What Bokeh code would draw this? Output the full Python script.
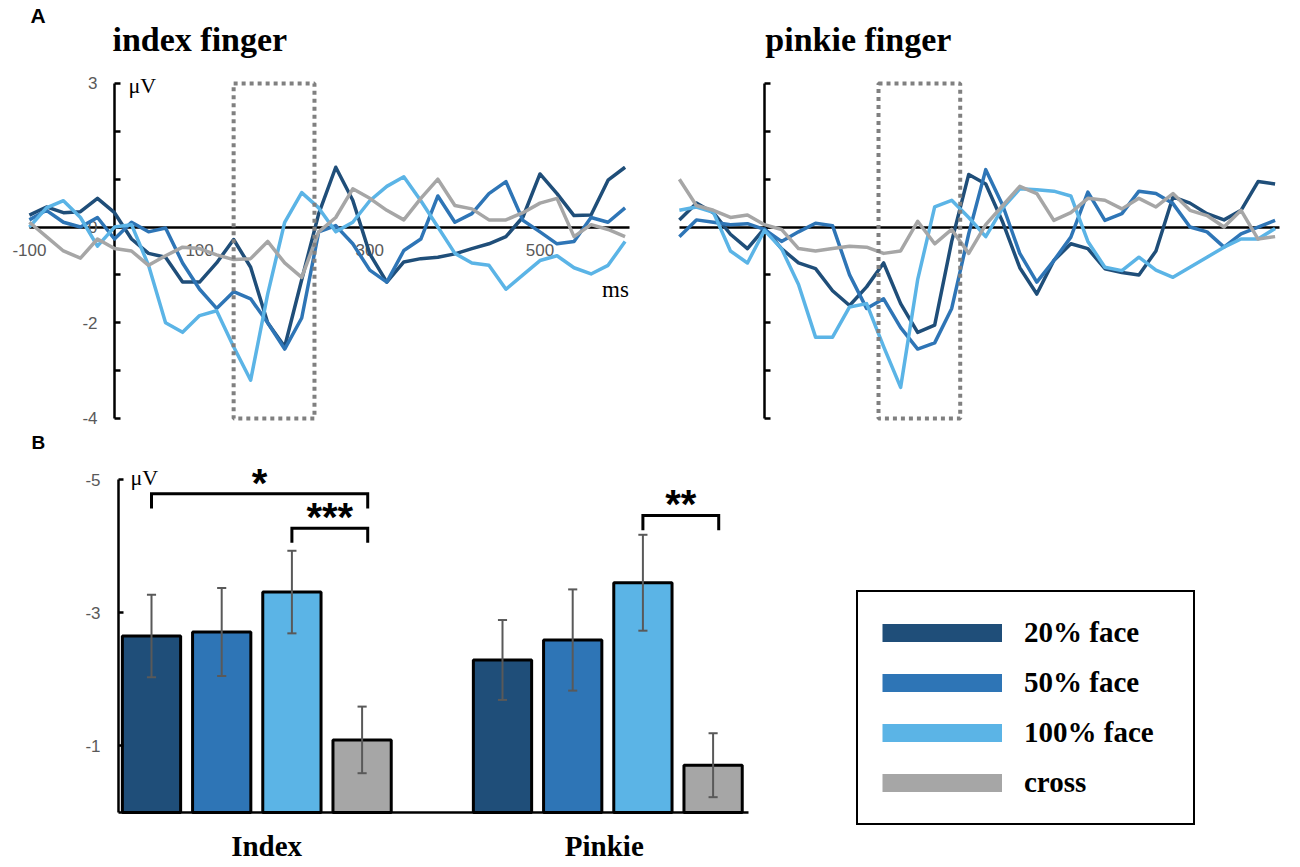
import numpy as np
from bokeh.plotting import figure
from bokeh.layouts import column, row
from bokeh.models import Range1d, FixedTicker, ColumnDataSource, Legend, LegendItem
from bokeh.core.properties import value
from bokeh.embed import file_html
from bokeh.resources import INLINE

# ---------------- data ----------------
time_ms = [-100, -80, -60, -40, -20, 0, 20, 40, 60, 80, 100, 120, 140, 160, 180, 200, 220, 240,
           260, 280, 300, 320, 340, 360, 380, 400, 420, 440, 460, 480, 500, 520, 540, 560, 580, 600]

conditions = ["20% face", "50% face", "100% face", "cross"]
colors = ["#1F4E79", "#2E75B6", "#5BB4E6", "#A6A6A6"]

# index finger ERP (uV)
index_20 = [0.25, 0.42, 0.3, 0.32, 0.6, 0.3, -0.25, -0.55, -0.63, -1.15, -1.15, -0.75, -0.26, -0.84, -2.0, -2.5,
            -1.1, 0.28, 1.25, 0.56, -0.56, -1.15, -0.73, -0.66, -0.63, -0.56, -0.45, -0.35, -0.2, 0.21, 1.11, 0.7,
            0.24, 0.25, 0.98, 1.25]
index_50 = [0.15, 0.35, 0.1, 0.0, 0.2, -0.25, 0.1, -0.1, -0.02, -0.75, -1.3, -1.7, -1.35, -1.5, -2.0, -2.55,
            -1.9, -0.1, 0.03, -0.35, -0.9, -1.15, -0.49, -0.25, 0.65, 0.1, 0.28, 0.7, 0.95, 0.14, -0.1, -0.35,
            -0.3, 0.2, 0.1, 0.4]
index_100 = [0.0, 0.4, 0.55, 0.2, -0.4, 0.0, 0.05, -0.8, -2.0, -2.2, -1.85, -1.75, -2.5, -3.2, -1.4, 0.1,
             0.72, 0.4, -0.1, 0.1, 0.55, 0.85, 1.05, 0.55, 0.0, -0.55, -0.75, -0.8, -1.3, -1.0, -0.7, -0.6,
             -0.85, -0.98, -0.8, -0.3]
index_cross = [0.1, -0.2, -0.5, -0.65, -0.25, -0.45, -0.5, -0.8, -0.6, -0.42, -0.45, -0.58, -0.68, -0.66, -0.3,
               -0.75, -1.05, -0.1, 0.2, 0.8, 0.6, 0.35, 0.15, 0.6, 1.0, 0.45, 0.38, 0.15, 0.15, 0.3, 0.5, 0.6,
               -0.2, 0.05, -0.05, -0.2]

# pinkie finger ERP (uV)
pinkie_20 = [0.15, 0.5, 0.3, -0.15, -0.45, -0.03, -0.45, -0.75, -0.87, -1.33, -1.64, -1.25, -0.75, -1.6, -2.2,
             -2.05, -0.3, 1.1, 0.9, 0.1, -0.85, -1.4, -0.7, -0.35, -0.45, -0.87, -0.95, -1.0, -0.5, 0.63, 0.5,
             0.28, 0.15, 0.35, 0.95, 0.9]
pinkie_50 = [-0.2, 0.15, 0.1, 0.05, 0.07, -0.05, -0.3, -0.1, 0.08, 0.03, -1.0, -1.7, -1.5, -2.1, -2.55, -2.42,
             -1.7, -0.14, 1.2, 0.45, -0.55, -1.15, -0.7, -0.21, 0.73, 0.14, 0.28, 0.75, 0.7, 0.49, 0.0, -0.1,
             -0.42, -0.14, 0.0, 0.14]
pinkie_100 = [0.35, 0.42, 0.31, -0.5, -0.75, -0.07, -0.45, -1.2, -2.3, -2.3, -1.67, -1.6, -2.5, -3.35, -1.1,
              0.42, 0.56, 0.2, -0.2, 0.4, 0.8, 0.78, 0.75, 0.65, -0.3, -0.84, -0.91, -0.63, -0.9, -1.05, -0.84,
              -0.63, -0.42, -0.25, -0.25, -0.03]
pinkie_cross = [1.0, 0.45, 0.35, 0.2, 0.25, 0.05, -0.05, -0.45, -0.5, -0.45, -0.4, -0.42, -0.55, -0.5, 0.12,
                -0.35, -0.05, -0.55, 0.05, 0.45, 0.85, 0.7, 0.14, 0.3, 0.6, 0.56, 0.38, 0.6, 0.42, 0.7, 0.35,
                0.24, 0.0, 0.35, -0.25, -0.2]

erp_x_ticks = [-100, 100, 300, 500]
erp_x_tick_labels = ["-100", "100", "300", "500"]
erp_y_ticks = [-4, -3, -2, -1, 0, 1, 2, 3]
erp_y_tick_labels = ["-4", "", "-2", "", "0", "", "", "3"]
index_window_ms = [140, 235]
pinkie_window_ms = [134, 230]
window_uv = [-4, 3]

# bar chart (mean amplitude, uV) and standard errors
groups = ["Index", "Pinkie"]
index_means = [-2.65, -2.71, -3.31, -1.09]
index_se = [0.62, 0.66, 0.62, 0.50]
pinkie_means = [-2.29, -2.59, -3.45, -0.71]
pinkie_se = [0.60, 0.76, 0.72, 0.48]
bar_y_ticks = [-5, -3, -1]
bar_y_tick_labels = ["-5", "-3", "-1"]
group_label_pos = [1.64, 6.45]

# significance brackets: (group index, condition a, condition b, bracket level uV, label)
sig_tests = [(0, 0, 3, -4.785, "*"), (0, 2, 3, -4.27, "***"), (1, 2, 3, -4.46, "**")]

# ---------------- styling ----------------
SERIF = value("Liberation Serif")
SANS = value("Liberation Sans")
TICK_GRAY = "#595959"


def style_common(p):
    p.outline_line_color = None
    p.grid.visible = False
    p.background_fill_color = "white"
    p.border_fill_color = "white"


def erp_panel(x_range, curves, title, window, show_labels):
    p = figure(width=649, height=430, x_range=Range1d(*x_range), y_range=Range1d(-4.251, 4.734),
               output_backend="svg", toolbar_location=None, min_border=0)
    style_common(p)
    xa = p.xaxis[0]
    ya = p.yaxis[0]
    for ax in (xa, ya):
        ax.fixed_location = 0
        ax.axis_line_width = 2.5
        ax.axis_line_color = "black"
        ax.major_tick_line_color = "black"
        ax.major_tick_line_width = 2.5
        ax.minor_tick_in = 0
        ax.minor_tick_out = 0
        ax.major_label_text_font = "Liberation Sans"
        ax.major_label_text_font_size = "17px"
        ax.major_label_text_color = TICK_GRAY
        ax.major_label_standoff = 17
        ax.level = "underlay"
    xa.bounds = (-100, 605)
    xa.major_tick_in = 0
    xa.major_tick_out = 0
    ya.bounds = (window_uv[0], window_uv[1])
    ya.major_tick_in = 6
    ya.major_tick_out = 0
    ya.ticker = FixedTicker(ticks=erp_y_ticks)
    if show_labels:
        xa.ticker = FixedTicker(ticks=erp_x_ticks)
        xa.major_label_overrides = dict(zip(erp_x_ticks, erp_x_tick_labels))
        ya.major_label_overrides = dict(zip(erp_y_ticks, erp_y_tick_labels))
    else:
        xa.ticker = FixedTicker(ticks=[])
        ya.major_label_overrides = {t: "" for t in erp_y_ticks}

    for vals, col in zip(curves, colors):
        p.line(time_ms, vals, line_color=col, line_width=3.5, line_join="round")

    p.quad(left=[window[0]], right=[window[1]], top=[window_uv[1]], bottom=[window_uv[0]],
           fill_color=None, line_color="#808080", line_width=4, line_dash="4 4")

    p.text(x=[-2.35 if show_labels else 1.0], y=[3.92], text=[title], text_font=SERIF,
           text_font_style="bold", text_font_size="34px", text_color="black",
           text_align="left", text_baseline="middle")
    if show_labels:
        p.text(x=[-98.7], y=[4.42], text=["A"], text_font=SANS, text_font_style="bold",
               text_font_size="21px", text_color="black", text_align="left", text_baseline="middle")
        p.text(x=[16.5], y=[2.96], text=["\u03bcV"], text_font=SERIF, text_font_size="22px",
               text_color="black", text_align="left", text_baseline="middle")
        p.text(x=[573], y=[-1.31], text=["ms"], text_font=SERIF, text_font_size="23px",
               text_color="black", text_align="left", text_baseline="middle")
    return p


p1 = erp_panel((-133.96, 628.7), [index_20, index_50, index_100, index_cross],
               "index finger", index_window_ms, True)
p2 = erp_panel((-135.1, 627.5), [pinkie_20, pinkie_50, pinkie_100, pinkie_cross],
               "pinkie finger", pinkie_window_ms, False)

# ---------------- bar chart ----------------
p3 = figure(width=1298, height=435, x_range=Range1d(-2.151, 16.339), y_range=Range1d(0.796, -5.736),
            output_backend="svg", toolbar_location=None, min_border=0)
style_common(p3)

all_means = [index_means, pinkie_means]
all_se = [index_se, pinkie_se]
bx, btop, bcol, lo, hi = [], [], [], [], []
for gi in range(len(groups)):
    for ci in range(len(conditions)):
        pos = gi * 5 + ci
        bx.append(pos)
        btop.append(all_means[gi][ci])
        bcol.append(colors[ci])
        lo.append(all_means[gi][ci] + all_se[gi][ci])
        hi.append(all_means[gi][ci] - all_se[gi][ci])

src = ColumnDataSource(dict(x=bx, top=btop, color=bcol, lo=lo, hi=hi,
                            cl=[v - 0.065 for v in bx], cr=[v + 0.065 for v in bx]))
p3.vbar(x="x", top="top", bottom=0, width=0.83, fill_color="color", line_color="black",
        line_width=3, source=src)
p3.segment(x0="x", y0="lo", x1="x", y1="hi", line_color=TICK_GRAY, line_width=2, source=src)
p3.segment(x0="cl", y0="hi", x1="cr", y1="hi", line_color=TICK_GRAY, line_width=2, source=src)
p3.segment(x0="cl", y0="lo", x1="cr", y1="lo", line_color=TICK_GRAY, line_width=2, source=src)

xs, ys, tx, ty, tt = [], [], [], [], []
for gi, ca, cb, lvl, lab in sig_tests:
    xa_ = gi * 5 + ca
    xb_ = gi * 5 + cb + 0.08
    xs.append([xa_, xa_, xb_, xb_])
    ys.append([lvl + 0.22, lvl, lvl, lvl + 0.22])
    tx.append((xa_ + xb_) / 2)
    ty.append(lvl - 0.165)
    tt.append(lab)
p3.multi_line(xs=xs, ys=ys, line_color="black", line_width=3, line_join="miter")
p3.text(x=tx, y=ty, text=tt, text_font=SANS, text_font_style="bold", text_font_size="40px",
        text_color="black", text_align="center", text_baseline="middle")

ya3 = p3.yaxis[0]
xa3 = p3.xaxis[0]
for ax in (xa3, ya3):
    ax.axis_line_width = 2.5
    ax.axis_line_color = "black"
    ax.major_tick_line_color = "black"
    ax.major_tick_line_width = 2.5
    ax.minor_tick_in = 0
    ax.minor_tick_out = 0
ya3.fixed_location = -0.47
ya3.bounds = (-5, 0)
ya3.ticker = FixedTicker(ticks=bar_y_ticks)
ya3.major_label_overrides = dict(zip(bar_y_ticks, bar_y_tick_labels))
ya3.major_tick_in = 5
ya3.major_tick_out = 0
ya3.major_label_standoff = 18
ya3.major_label_text_font = "Liberation Sans"
ya3.major_label_text_font_size = "17px"
ya3.major_label_text_color = TICK_GRAY

xa3.fixed_location = 0
xa3.bounds = (-0.47, 8.5)
xa3.ticker = FixedTicker(ticks=group_label_pos)
xa3.major_label_overrides = dict(zip(group_label_pos, groups))
xa3.major_tick_in = 0
xa3.major_tick_out = 0
xa3.major_label_standoff = 18
xa3.major_label_text_font = "Liberation Serif"
xa3.major_label_text_font_style = "bold"
xa3.major_label_text_font_size = "29px"
xa3.major_label_text_color = "black"

p3.text(x=[-1.709], y=[-5.556], text=["B"], text_font=SANS, text_font_style="bold",
        text_font_size="19px", text_color="black", text_align="left", text_baseline="middle")
p3.text(x=[-0.30], y=[-5.036], text=["\u03bcV"], text_font=SERIF, text_font_size="22px",
        text_color="black", text_align="left", text_baseline="middle")

items = []
for name, col in zip(conditions, colors):
    r = p3.line(x=np.array([np.nan]), y=np.array([np.nan]), line_color=col, line_width=18,
                line_cap="butt")
    items.append(LegendItem(label=name, renderers=[r]))
legend = Legend(items=items, location=(856, 40), orientation="vertical",
                glyph_width=120, glyph_height=33, label_height=33, label_width=145,
                label_standoff=22, spacing=17, padding=24, margin=0,
                label_text_font="Liberation Serif", label_text_font_style="bold",
                label_text_font_size="29px", label_text_color="black",
                border_line_color="black", border_line_width=2.5, border_line_alpha=1.0,
                background_fill_color="white", background_fill_alpha=1.0)
p3.add_layout(legend)

layout = column(row(p1, p2), p3)
open("out.html", "w").write(file_html(layout, INLINE))
